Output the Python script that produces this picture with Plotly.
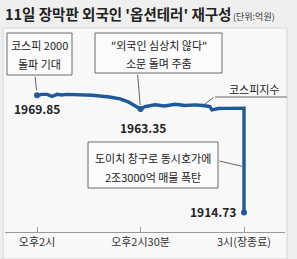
import plotly.graph_objects as go

# ---- data (minutes after 14:00, KOSPI index) ----
minutes = [0, 1.5, 3, 4.3, 5.8, 7.2, 8.7, 11, 14, 16, 21, 24.1, 26.4, 28.4, 30,
           31.3, 32.8, 34.2, 37, 40, 43, 45.8, 48.1, 50.1, 50.7, 52.5, 54.5,
           57.4, 59.6, 60, 60]
kospi = [1969.85, 1970.27, 1970.27, 1969.28, 1970.27, 1969.99, 1970.27, 1970.1,
         1970.0, 1969.85, 1969.0, 1968.15, 1966.74, 1965.05, 1963.35,
         1964.5, 1965.05, 1965.35, 1964.8, 1965.6, 1965.05, 1965.35, 1965.05,
         1964.5, 1963.0, 1963.6, 1963.7, 1963.8, 1963.8, 1963.8, 1914.73]
key_idx = [0, 14, 30]            # labelled points: start, low, close
tick_vals = [0, 30, 60]
tick_text = ["오후2시", "오후2시30분", "3시(장종료)"]

title_text = "11일 장막판 외국인 '옵션테러' 재구성"
unit_text = "(단위:억원)"
note1 = ["코스피 2000", "돌파 기대"]
note2 = ["\"외국인 심상치 않다\"", "소문 돌며 주춤"]
note3 = ["도이치 창구로 동시호가에", "2조3000억 매물 폭탄"]
series_label = "코스피지수"

W, H = 297, 259
ML, MR, MT, MB = 5, 12, 0, 27
PW, PH = W - ML - MR, H - MT - MB

def px(x):
    return (x - ML) / PW

def py(y):
    return (H - MB - y) / PH

FONT = "Noto Sans CJK KR"
LINE = "#1d5a96"

fig = go.Figure()
fig.add_trace(go.Scatter(x=minutes, y=kospi, mode="lines",
                         line=dict(color=LINE, width=3.4), hoverinfo="skip"))
fig.add_trace(go.Scatter(x=[minutes[i] for i in key_idx], y=[kospi[i] for i in key_idx],
                         mode="markers", marker=dict(color=LINE, size=6), hoverinfo="skip"))

ann = []
# title
ann.append(dict(text=title_text, xref="paper", yref="paper", x=px(3), y=py(14),
                xanchor="left", yanchor="middle", showarrow=False,
                font=dict(family=FONT, size=14.5, color="#222", weight=700)))
ann.append(dict(text=unit_text, xref="paper", yref="paper", x=px(231), y=py(16),
                xanchor="left", yanchor="middle", showarrow=False,
                font=dict(family=FONT, size=9, color="#333")))
# value labels anchored to the key points
ann.append(dict(text=f"{kospi[key_idx[0]]:.2f}", x=minutes[key_idx[0]], y=kospi[key_idx[0]],
                xanchor="center", yanchor="middle", yshift=-13, showarrow=False,
                font=dict(family=FONT, size=12, color="#222", weight=700)))
ann.append(dict(text=f"{kospi[key_idx[1]]:.2f}", x=minutes[key_idx[1]], y=kospi[key_idx[1]],
                xanchor="center", yanchor="middle", xshift=2, yshift=-18, showarrow=False,
                font=dict(family=FONT, size=12, color="#222", weight=700)))
ann.append(dict(text=f"{kospi[key_idx[2]]:.2f}", x=minutes[key_idx[2]], y=kospi[key_idx[2]],
                xanchor="right", yanchor="middle", xshift=-6, yshift=1, showarrow=False,
                font=dict(family=FONT, size=12, color="#222", weight=700)))

# callout boxes: (lines, left, right, top, bottom, line centres)
boxes = [
    (note1, 7, 72, 33, 75, (45, 64)),
    (note2, 95, 222, 33, 73, (45, 63)),
    (note3, 88, 218, 142, 188, (158, 177)),
]
shapes = [
    dict(type="rect", xref="paper", yref="paper", x0=px(3), x1=px(287), y0=py(28), y1=py(259),
         fillcolor="#f8f8f8", line=dict(color="#d6d6d6", width=1), layer="below"),
    dict(type="line", xref="paper", yref="paper", x0=px(215), x1=px(287), y0=py(97), y1=py(97),
         line=dict(color="#666", width=1)),
]
for lines, l, r, t, b, ys in boxes:
    shapes.append(dict(type="rect", xref="paper", yref="paper", x0=px(l), x1=px(r),
                       y0=py(b), y1=py(t), fillcolor="#fbfbfb",
                       line=dict(color="#6a6a6a", width=1), layer="above"))
    for txt, yy in zip(lines, ys):
        ann.append(dict(text=txt, xref="paper", yref="paper", x=px((l + r) / 2), y=py(yy),
                        xanchor="center", yanchor="middle", showarrow=False,
                        font=dict(family=FONT, size=11, color="#222")))

arrow = dict(text="", showarrow=True, arrowhead=0, arrowwidth=1, arrowcolor="#666")
# pointers
ann.append(dict(arrow, x=minutes[key_idx[0]], y=kospi[key_idx[0]], ax=-2, ay=-20, standoff=5))
ann.append(dict(arrow, x=minutes[key_idx[1]], y=kospi[key_idx[1]], ax=-3, ay=-36, standoff=4))
ann.append(dict(arrow, x=60, y=0.5 * (kospi[-2] + kospi[-1]) - 3, ax=-26, ay=-6, standoff=2))
ann.append(dict(arrow, x=minutes[22], y=kospi[22], ax=12, ay=-9, standoff=2))
# series label
ann.append(dict(text=series_label, xref="paper", yref="paper", x=px(254), y=py(89),
                xanchor="center", yanchor="middle", showarrow=False,
                font=dict(family=FONT, size=11, color="#222")))

fig.update_layout(
    width=W, height=H, margin=dict(l=ML, r=MR, t=MT, b=MB),
    paper_bgcolor="#efefef", plot_bgcolor="rgba(0,0,0,0)",
    showlegend=False, annotations=ann, shapes=shapes,
    xaxis=dict(range=[-9.28, 71.88], tickvals=tick_vals, ticktext=tick_text,
               showgrid=False, zeroline=False, showline=True, linecolor="#999", linewidth=1,
               ticks="inside", ticklen=5, tickcolor="#999",
               tickfont=dict(family=FONT, size=11, color="#333"), fixedrange=True),
    yaxis=dict(range=[1905.6, 2014.6], visible=False, fixedrange=True),
)

fig.write_html("out.html", config={"displayModeBar": False})
